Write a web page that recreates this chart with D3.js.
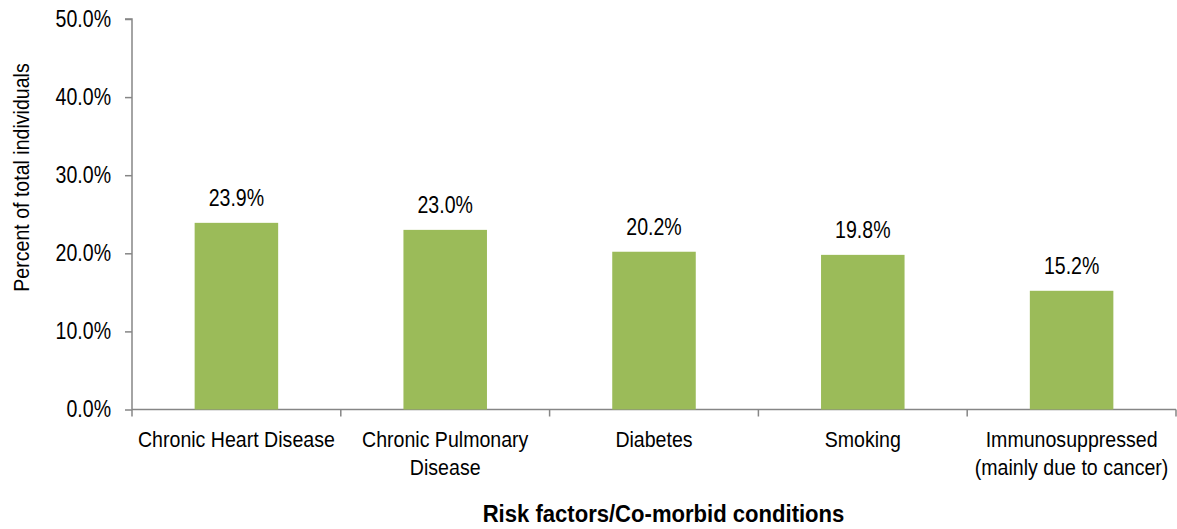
<!DOCTYPE html>
<html>
<head>
<meta charset="utf-8">
<script src="https://cdn.jsdelivr.net/npm/d3@7"></script>
<style>
  body { margin: 0; background: #fff; }
  svg { display: block; font-family: "Liberation Sans", Arial, sans-serif; }
</style>
</head>
<body>
<div id="chart"></div>
<script>
// risk factor categories (each label split into lines)
const categories = [
  ["Chronic Heart Disease"],
  ["Chronic Pulmonary", "Disease"],
  ["Diabetes"],
  ["Smoking"],
  ["Immunosuppressed", "(mainly due to cancer)"]
];
const values = [23.9, 23.0, 20.2, 19.8, 15.2];
const yTicks = [0, 10, 20, 30, 40, 50];

const width = 1177, height = 529;
const margin = { top: 19, right: 1, bottom: 120, left: 132 };

const svg = d3.select("#chart").append("svg")
    .attr("width", width)
    .attr("height", height);

const keys = categories.map(c => c.join(" "));

const x = d3.scaleBand()
    .domain(keys)
    .range([margin.left, width - margin.right])
    .paddingInner(0.6)
    .paddingOuter(0.3);

const y = d3.scaleLinear()
    .domain([0, 50])
    .range([height - margin.bottom + 0.5, margin.top]);

const axisColor = "#868686";
// the original uses a narrow sans; squeeze Liberation Sans horizontally
const narrow = 0.85;

// y axis
const yAxis = svg.append("g")
    .attr("transform", `translate(${margin.left},0)`)
    .call(d3.axisLeft(y).tickValues(yTicks).tickSize(7).tickPadding(14)
      .tickFormat(d => d.toFixed(1) + "%"));
yAxis.select(".domain").attr("stroke", axisColor).attr("stroke-width", 1.5)
    .attr("d", `M-7,${y(50)}H0V${y(0)}`);
yAxis.selectAll(".tick line").attr("stroke", axisColor).attr("stroke-width", 1.5);
yAxis.selectAll(".tick text")
    .attr("fill", "#000")
    .style("font-size", "23px")
    .attr("x", -21 / narrow)
    .attr("transform", `scale(${narrow},1)`);

// x axis line and category boundary ticks
const step = x.step();
const xg = svg.append("g");
xg.append("line")
    .attr("x1", margin.left).attr("x2", width - margin.right)
    .attr("y1", y(0)).attr("y2", y(0))
    .attr("stroke", axisColor).attr("stroke-width", 1.5);
xg.selectAll("line.tk")
  .data(d3.range(keys.length + 1))
  .join("line")
    .attr("class", "tk")
    .attr("x1", i => x(keys[0]) - x.bandwidth() * 0.75 + i * step)
    .attr("x2", i => x(keys[0]) - x.bandwidth() * 0.75 + i * step)
    .attr("y1", y(0)).attr("y2", y(0) + 7)
    .attr("stroke", axisColor).attr("stroke-width", 1.5);

// category labels
const lab = svg.append("g").selectAll("text")
  .data(categories)
  .join("text")
    .attr("text-anchor", "middle")
    .attr("fill", "#000")
    .style("font-size", "22px")
    .attr("transform", (d, i) =>
      `translate(${x(keys[i]) + x.bandwidth() / 2},${y(0) + 37.5}) scale(0.89,1)`);
lab.selectAll("tspan")
  .data(d => d)
  .join("tspan")
    .attr("x", 0)
    .attr("dy", (d, i) => i === 0 ? 0 : 28)
    .text(d => d);

// bars
svg.append("g").selectAll("rect")
  .data(values)
  .join("rect")
    .attr("x", (d, i) => x(keys[i]))
    .attr("width", x.bandwidth())
    .attr("y", d => y(d))
    .attr("height", d => y(0) - y(d))
    .attr("fill", "#9BBB59");

// value labels
svg.append("g").selectAll("text")
  .data(values)
  .join("text")
    .attr("transform", (d, i) =>
      `translate(${x(keys[i]) + x.bandwidth() / 2},${y(d) - 16.5}) scale(${narrow},1)`)
    .attr("text-anchor", "middle")
    .attr("fill", "#000")
    .style("font-size", "23px")
    .text(d => d.toFixed(1) + "%");

// axis titles
svg.append("text")
    .attr("transform", `translate(28.5,177.5) rotate(-90) scale(0.89,1)`)
    .attr("text-anchor", "middle")
    .style("font-size", "22px")
    .text("Percent of total individuals");

svg.append("text")
    .attr("transform", "translate(663.5,521.5) scale(0.96,1)")
    .attr("text-anchor", "middle")
    .style("font-size", "23px")
    .style("font-weight", "bold")
    .text("Risk factors/Co-morbid conditions");
</script>
</body>
</html>
